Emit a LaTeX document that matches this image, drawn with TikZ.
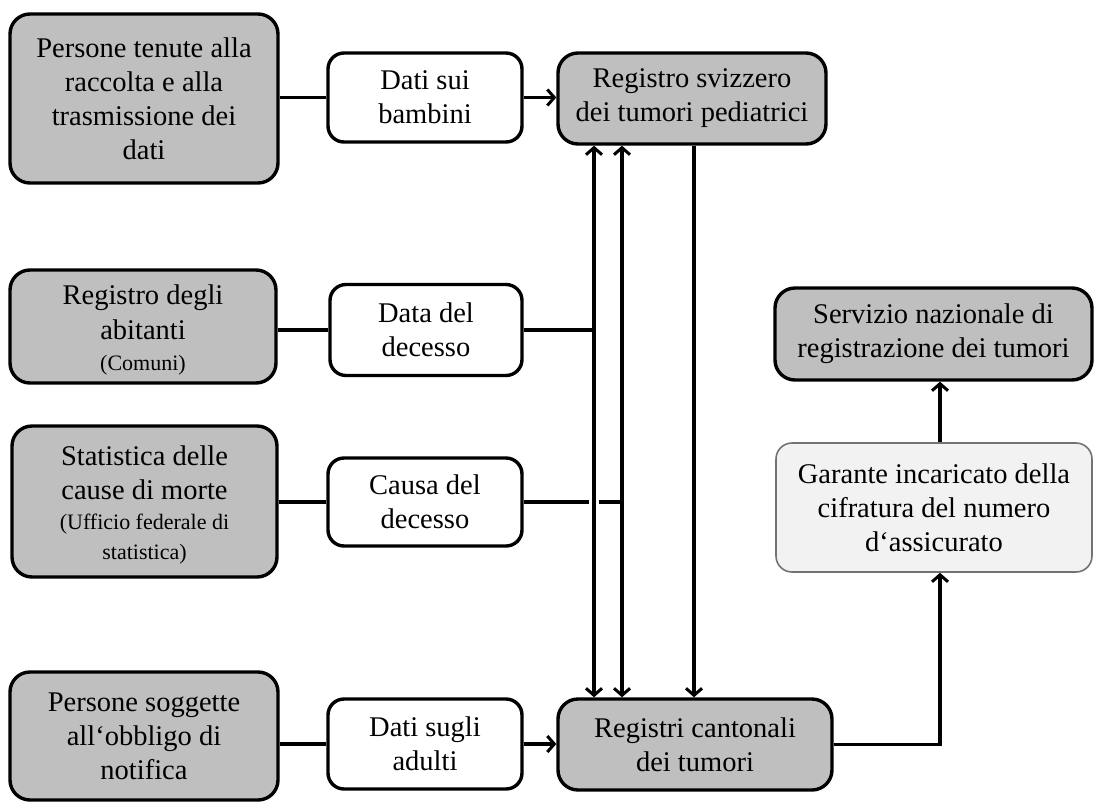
\documentclass[tikz,border=0pt]{standalone}
\usepackage{fontspec}
\setmainfont{Liberation Serif}
\usetikzlibrary{arrows.meta}
\begin{document}
\begin{tikzpicture}[x=1pt,y=-1pt,
  box/.style={draw=black, line width=3.4pt, rounded corners=20pt, align=center,
    inner sep=0pt, font=\fontsize{28.5}{34}\selectfont},
  gbox/.style={box, fill=gray!50},
  wbox/.style={box, fill=white, rounded corners=16pt},
  lbox/.style={box, fill=black!5, draw=black!55, line width=1.6pt, rounded corners=16pt},
  conn/.style={line width=3.4pt},
  arr/.style={conn, -{Straight Barb[length=7pt,width=16pt,line width=3pt]}},
  darr/.style={conn, {Straight Barb[length=7pt,width=16pt,line width=3pt]}-{Straight Barb[length=7pt,width=16pt,line width=3pt]}}
]
\useasboundingbox (0,0) rectangle (1096,804);

\node[gbox, minimum width=268pt, minimum height=169pt] (a1) at (144,98.5)
  {Persone tenute alla\\raccolta e alla\\trasmissione dei\\dati};
\node[wbox, minimum width=194pt, minimum height=89pt] (b1) at (425,97.5) {Dati sui\\bambini};
\node[gbox, minimum width=268pt, minimum height=91pt] (c1) at (692,98.5)
  {Registro svizzero\\dei tumori pediatrici};

\node[gbox, minimum width=266pt, minimum height=113pt] (a2) at (143,326.5)
  {\rule{0pt}{26pt}Registro degli\\[1pt]abitanti\\[-3pt]{\fontsize{22}{26}\selectfont (Comuni)}};
\node[wbox, minimum width=192pt, minimum height=91pt] (b2) at (426,330) {Data del\\decesso};

\node[gbox, minimum width=265pt, minimum height=151pt] (a3) at (144.5,501.5)
  {\rule{0pt}{26pt}Statistica delle\\cause di morte\\[-4pt]{\fontsize{22}{26}\selectfont (Ufficio federale di}\\[-4pt]{\fontsize{22}{26}\selectfont statistica)}};
\node[wbox, minimum width=194pt, minimum height=88pt] (b3) at (425,502) {Causa del\\decesso};

\node[gbox, minimum width=268pt, minimum height=128pt] (a4) at (144,736)
  {Persone soggette\\all‘obbligo di\\notifica};
\node[wbox, minimum width=194pt, minimum height=90pt] (b4) at (425,744) {Dati sugli\\adulti};
\node[gbox, minimum width=274pt, minimum height=91pt] (c4) at (695,744.5)
  {Registri cantonali\\dei tumori};

\node[gbox, minimum width=317pt, minimum height=92pt] (d) at (933.5,334)
  {Servizio nazionale di\\registrazione dei tumori};
\node[lbox, minimum width=316pt, minimum height=129pt] (e) at (934,507.5)
  {Garante incaricato della\\cifratura del numero\\d‘assicurato};

% left connectors
\draw[conn] (a1.east |- b1.west) -- (b1.west);
\draw[arr] (b1.east) -- (c1.west |- b1.east);
\draw[conn] (a2.east |- b2.west) -- (b2.west);
\draw[conn] (a3.east |- b3.west) -- (b3.west);
\draw[conn] (a4.east |- b4.west) -- (b4.west);
\draw[arr] (b4.east) -- (c4.west |- b4.east);

% verticals
\coordinate (x1) at (594,0);
\coordinate (x2) at (622,0);
\coordinate (x3) at (694,0);
\draw[darr] (x1 |- c1.south) -- (x1 |- c4.north);
\draw[darr] (x2 |- c1.south) -- (x2 |- c4.north);
\draw[arr] (x3 |- c1.south) -- (x3 |- c4.north);

% data del decesso / causa del decesso
\draw[conn] (b2.east) -- (b2.east -| x1);
\coordinate (g1) at (589,502);
\coordinate (g2) at (599,502);
\draw[conn] (b3.east) -- (g1);
\draw[conn] (g2) -- (b3.east -| x2);

% right side
\coordinate (x4) at (940,0);
\draw[arr] (c4.east) -- (c4.east -| x4) -- (x4 |- e.south);
\draw[arr] (x4 |- e.north) -- (x4 |- d.south);
\end{tikzpicture}
\end{document}
